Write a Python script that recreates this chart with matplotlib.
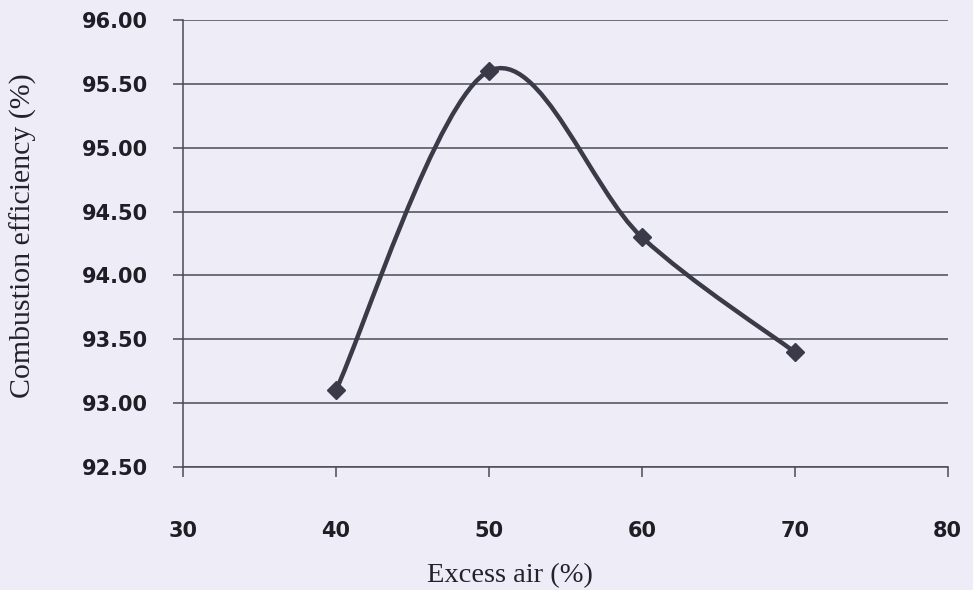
import matplotlib
matplotlib.use('Agg')
import matplotlib.pyplot as plt
import numpy as np
from matplotlib.path import Path
from matplotlib.patches import PathPatch

# data
excess_air = [40, 50, 60, 70]
efficiency = [93.10, 95.60, 94.30, 93.40]
x_ticks = [30, 40, 50, 60, 70, 80]
y_ticks = [92.5, 93.0, 93.5, 94.0, 94.5, 95.0, 95.5, 96.0]

bg = '#eeedf7'
ink = '#3a3a48'

fig = plt.figure(figsize=(9.73, 5.90), dpi=100, facecolor=bg)
ax = fig.add_axes([0.188, 0.2085, 0.786, 0.7575], facecolor=bg)


def smooth_path(xs, ys):
    '''Excel style smoothed line: cubic bezier through every point'''
    pts = np.column_stack([xs, ys]).astype(float)
    n = len(pts)
    verts = [pts[0]]
    codes = [Path.MOVETO]
    for i in range(n - 1):
        p_prev = pts[i - 1] if i > 0 else pts[i]
        p_next = pts[i + 2] if i + 2 < n else pts[i + 1]
        c1 = pts[i] + (pts[i + 1] - p_prev) / 6.0
        c2 = pts[i + 1] - (p_next - pts[i]) / 6.0
        verts += [c1, c2, pts[i + 1]]
        codes += [Path.CURVE4] * 3
    return Path(verts, codes)


ax.add_patch(PathPatch(smooth_path(excess_air, efficiency), facecolor='none',
                       edgecolor=ink, lw=3.2, capstyle='round', zorder=3))
ax.plot(excess_air, efficiency, linestyle='none', marker='D', markersize=9,
        color=ink, zorder=4)

ax.set_xlim(30, 80)
ax.set_ylim(92.5, 96.0)
ax.set_xticks(x_ticks)
ax.set_yticks(y_ticks)
ax.set_xticklabels([str(t) for t in x_ticks])
ax.set_yticklabels(['%.2f' % t for t in y_ticks])

ax.yaxis.grid(True, color='#4a4a55', lw=1.1)
ax.set_axisbelow(True)
for s in ['top', 'right']:
    ax.spines[s].set_visible(False)
for s in ['left', 'bottom']:
    ax.spines[s].set_color('#4a4a55')
    ax.spines[s].set_linewidth(1.1)

ax.tick_params(axis='both', colors='#4a4a55', length=7, width=1.1,
               direction='out')
ax.tick_params(axis='x', pad=32, labelcolor='#1e1e24')
ax.tick_params(axis='y', pad=18, labelcolor='#1e1e24')
for lab in ax.get_xticklabels() + ax.get_yticklabels():
    lab.set_fontfamily('DejaVu Sans')
    lab.set_fontweight('bold')
    lab.set_fontsize(15)

fig.text(0.524, 0.025, 'Excess air (%)', ha='center', va='center',
         family='Liberation Serif', fontsize=20.5, color='#222228')
fig.text(0.024, 0.6, 'Combustion efficiency (%)', ha='center', va='center',
         rotation=90, family='Liberation Serif', fontsize=21.5,
         color='#222228')

fig.savefig('out.png', dpi=100, facecolor=bg)
